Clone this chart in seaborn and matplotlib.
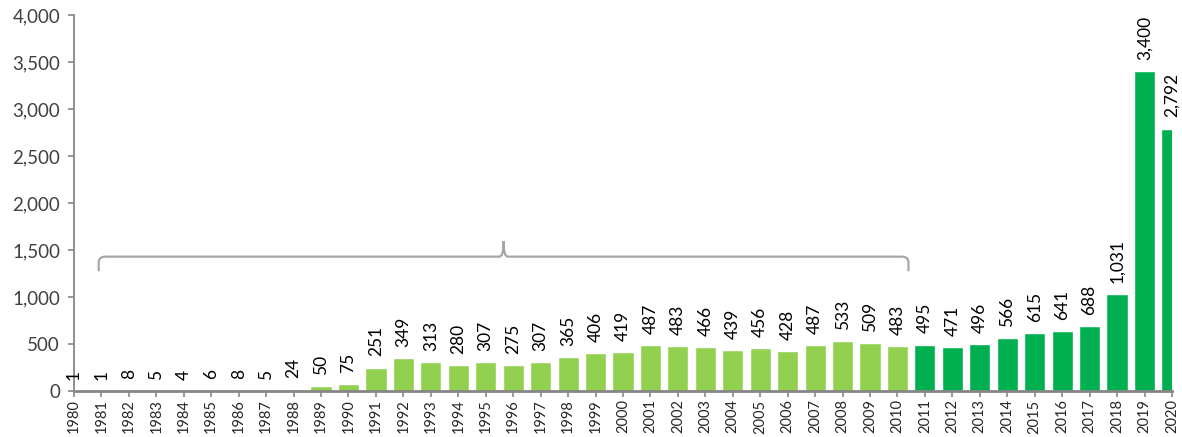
import numpy as np
import pandas as pd
import seaborn as sns
import matplotlib.pyplot as plt
from matplotlib.path import Path
from matplotlib.patches import PathPatch

# Data
years = list(range(1980, 2021))
counts = [1, 1, 8, 5, 4, 6, 8, 5, 24, 50, 75, 251, 349, 313, 280, 307, 275, 307,
          365, 406, 419, 487, 483, 466, 439, 456, 428, 487, 533, 509, 483,
          495, 471, 496, 566, 615, 641, 688, 1031, 3400, 2792]
period = ['early' if y <= 2010 else 'recent' for y in years]
colors = {'early': '#92D050', 'recent': '#00B050'}

df = pd.DataFrame({'year': [str(y) for y in years], 'count': counts, 'period': period})

sns.set_style('white')
plt.rcParams['font.family'] = ['Lato', 'DejaVu Sans']

fig = plt.figure(figsize=(11.82, 4.37), dpi=100)
ax = fig.add_axes([0.0626, 0.105, 0.9289, 0.8607])

sns.barplot(data=df, x='year', y='count', hue='period', palette=colors,
            dodge=False, width=0.77, legend=False, ax=ax, saturation=1)

for c in ax.containers:
    ax.bar_label(c, labels=[f'{v:,.0f}' for v in c.datavalues], rotation=90,
                 padding=8, fontsize=12.5, color='black', clip_on=False)

ax.set_xlim(0, len(years) - 1)
ax.set_ylim(0, 4000)
ax.set_yticks(np.arange(0, 4001, 500))
ax.set_yticklabels([f'{v:,}' for v in range(0, 4001, 500)], fontsize=13.5, color='#404040')
ax.tick_params(axis='x', labelrotation=90, labelsize=10.5, length=4, width=1.2,
               color='#868686', bottom=True, labelcolor='#262626', pad=2)
ax.tick_params(axis='y', length=4, width=1.2, color='#868686', left=True, pad=6)
ax.set_xlabel('')
ax.set_ylabel('')

sns.despine(ax=ax)
ax.spines['left'].set_color('#868686')
ax.spines['left'].set_linewidth(1.3)
ax.spines['bottom'].set_color('#868686')
ax.spines['bottom'].set_linewidth(2)

# curly bracket over 1981-2010
x0, x1 = years.index(1981) - 0.1, years.index(2010) + 0.4
xm = (x0 + x1) / 2
yb, ytip, ypk = 1430, 1275, 1595
rx, ry = 0.25, 60
verts = [(x0, ytip), (x0, yb - ry), (x0, yb), (x0 + rx, yb),
         (xm - 0.15, yb), (xm, yb), (xm, ypk), (xm, yb), (xm + 0.15, yb),
         (x1 - rx, yb), (x1, yb), (x1, yb - ry), (x1, ytip)]
codes = [Path.MOVETO, Path.LINETO, Path.CURVE3, Path.CURVE3,
         Path.LINETO, Path.CURVE3, Path.CURVE3, Path.CURVE3, Path.CURVE3,
         Path.LINETO, Path.CURVE3, Path.CURVE3, Path.LINETO]
ax.add_patch(PathPatch(Path(verts, codes), fill=False, edgecolor='#A6A6A6', lw=1.6))

fig.savefig('out.png', dpi=100)
